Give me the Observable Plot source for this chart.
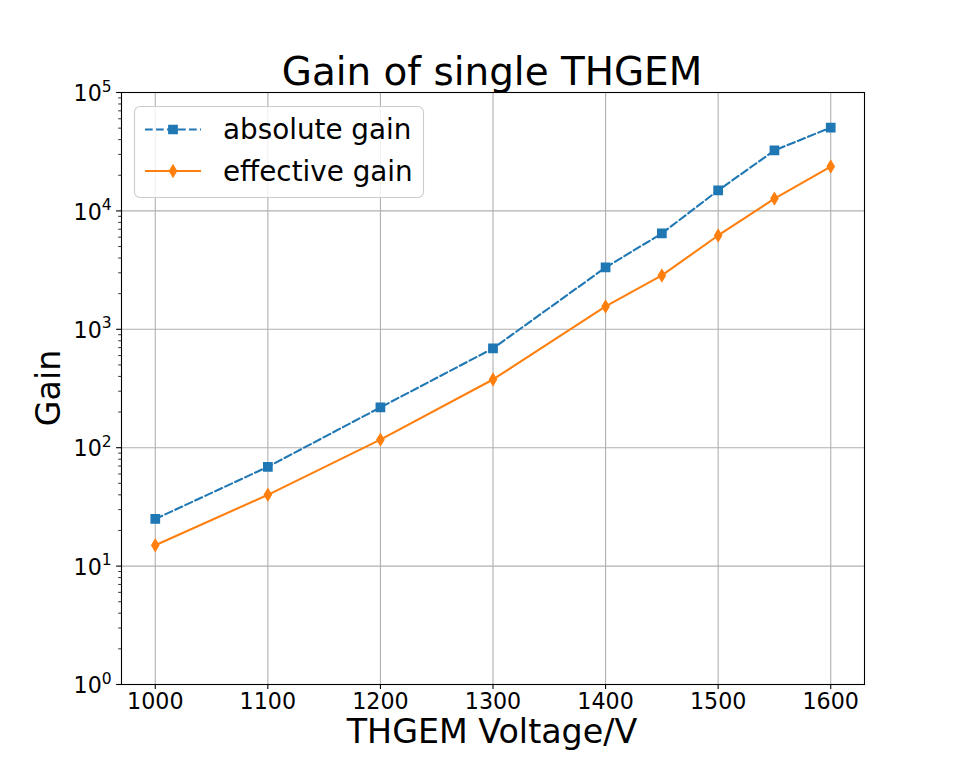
<!DOCTYPE html>
<html>
<head>
<meta charset="utf-8">
<script src="https://cdn.jsdelivr.net/npm/d3@7"></script>
<script src="https://cdn.jsdelivr.net/npm/@observablehq/plot@0.6"></script>
<style>
  html, body { margin: 0; padding: 0; background: #fff; }
  #chart { position: relative; width: 960px; height: 768px; font-family: "DejaVu Sans", sans-serif; }
</style>
</head>
<body>
<div id="chart"></div>
<script>
const voltage = [1000, 1100, 1200, 1300, 1400, 1450, 1500, 1550, 1600];
const absoluteGain = [25, 69, 219, 690, 3330, 6450, 14900, 32400, 50600];
const effectiveGain = [15, 40, 117, 377, 1560, 2850, 6200, 12700, 23700];
const xTicks = [1000, 1100, 1200, 1300, 1400, 1500, 1600];
const yExponents = [0, 1, 2, 3, 4, 5];
const seriesNames = ["absolute gain", "effective gain"];
const titleText = "Gain of single THGEM";
const xLabel = "THGEM Voltage/V";
const yLabel = "Gain";

const yTicks = yExponents.map(e => Math.pow(10, e));
const yMinor = [];
for (let e = 0; e < 5; e++) for (let m = 2; m <= 9; m++) yMinor.push(m * Math.pow(10, e));

const absData = voltage.map((v, i) => ({v, g: absoluteGain[i]}));
const effData = voltage.map((v, i) => ({v, g: effectiveGain[i]}));

const blue = "#1f77b4", orange = "#ff7f0e";

const thinDiamond = {
  draw(context, size) {
    const r = Math.sqrt(size / Math.PI);
    const h = r * 1.25, w = r * 0.75;
    context.moveTo(0, -h);
    context.lineTo(w, 0);
    context.lineTo(0, h);
    context.lineTo(-w, 0);
    context.closePath();
  }
};

const plot = Plot.plot({
  width: 960,
  height: 768,
  marginLeft: 121,
  marginRight: 96,
  marginTop: 92,
  marginBottom: 84,
  style: {fontFamily: "DejaVu Sans, sans-serif", background: "white", overflow: "visible"},
  x: {domain: [970, 1630]},
  y: {type: "log", domain: [1, 1e5]},
  marks: [
    Plot.gridX(xTicks, {stroke: "#b0b0b0", strokeOpacity: 1, strokeWidth: 1.1}),
    Plot.gridY(yTicks, {stroke: "#b0b0b0", strokeOpacity: 1, strokeWidth: 1.1}),
    Plot.line(absData, {x: "v", y: "g", stroke: blue, strokeWidth: 2.08, strokeDasharray: "7.7,3.3"}),
    Plot.line(effData, {x: "v", y: "g", stroke: orange, strokeWidth: 2.08}),
    Plot.dot(absData, {x: "v", y: "g", symbol: "square", r: 4.7, fill: blue, stroke: blue, strokeWidth: 1.39}),
    Plot.dot(effData, {x: "v", y: "g", symbol: thinDiamond, r: 4.7, fill: orange, stroke: orange, strokeWidth: 1.39}),
    Plot.frame({stroke: "black", strokeWidth: 1.1}),
    Plot.axisX(xTicks, {tickSize: 4.9, tickPadding: 3.5, fontSize: 22.2, label: null, tickFormat: d => String(d), stroke: "black", strokeWidth: 1.1, fill: "black"}),
    Plot.axisY(yMinor, {tickSize: 2.8, tickFormat: () => "", label: null, stroke: "black", strokeWidth: 0.8}),
    Plot.axisY(yTicks, {tickSize: 4.9, tickPadding: 4.9, fontSize: 22.2, label: null, tickFormat: d => "10^" + Math.round(Math.log10(d)), stroke: "black", strokeWidth: 1.1, fill: "black"})
  ]
});

document.getElementById("chart").appendChild(plot);
const svg = d3.select(plot);

// superscript y tick labels: 10^n
svg.selectAll("text").each(function() {
  const t = d3.select(this);
  const s = t.text();
  if (!/^10\^\d+$/.test(s)) return;
  const e = s.split("^")[1];
  t.text(null);
  t.append("tspan").text("10");
  t.append("tspan").attr("font-size", "15.5px").attr("dy", "-0.62em").text(e);
  t.attr("transform", (t.attr("transform") || "") + " translate(0,1.5)");
});

// title
svg.append("text")
  .attr("x", 492).attr("y", 85)
  .attr("text-anchor", "middle")
  .attr("font-size", "38.9px").attr("fill", "black")
  .text(titleText);

// axis labels
svg.append("text")
  .attr("x", 492).attr("y", 743)
  .attr("text-anchor", "middle")
  .attr("font-size", "33.3px").attr("fill", "black")
  .text(xLabel);
svg.append("text")
  .attr("transform", "translate(60,388) rotate(-90)")
  .attr("text-anchor", "middle")
  .attr("font-size", "33.3px").attr("fill", "black")
  .text(yLabel);

// legend
const lg = svg.append("g").attr("font-size", "27.8px").attr("text-anchor", "start");
lg.append("rect")
  .attr("x", 134.5).attr("y", 106.5).attr("width", 289).attr("height", 91)
  .attr("rx", 5.5).attr("ry", 5.5)
  .attr("fill", "white").attr("fill-opacity", 0.8)
  .attr("stroke", "#cccccc").attr("stroke-width", 1.1);
// absolute
lg.append("line").attr("x1", 145).attr("x2", 201).attr("y1", 129.5).attr("y2", 129.5)
  .attr("stroke", blue).attr("stroke-width", 2.08).attr("stroke-dasharray", "7.7,3.3");
lg.append("path").attr("d", d3.symbol(d3.symbolSquare, 4.7 * 4.7 * Math.PI)())
  .attr("transform", "translate(173,129.5)").attr("fill", blue).attr("stroke", blue).attr("stroke-width", 1.39);
lg.append("text").attr("x", 223).attr("y", 139).attr("text-anchor", "start").attr("fill", "black").text(seriesNames[0]);
// effective
lg.append("line").attr("x1", 145).attr("x2", 201).attr("y1", 171).attr("y2", 171)
  .attr("stroke", orange).attr("stroke-width", 2.08);
lg.append("path").attr("d", d3.symbol(thinDiamond, 4.7 * 4.7 * Math.PI)())
  .attr("transform", "translate(173,171)").attr("fill", orange).attr("stroke", orange).attr("stroke-width", 1.39);
lg.append("text").attr("x", 223).attr("y", 180.5).attr("text-anchor", "start").attr("fill", "black").text(seriesNames[1]);
</script>
</body>
</html>
